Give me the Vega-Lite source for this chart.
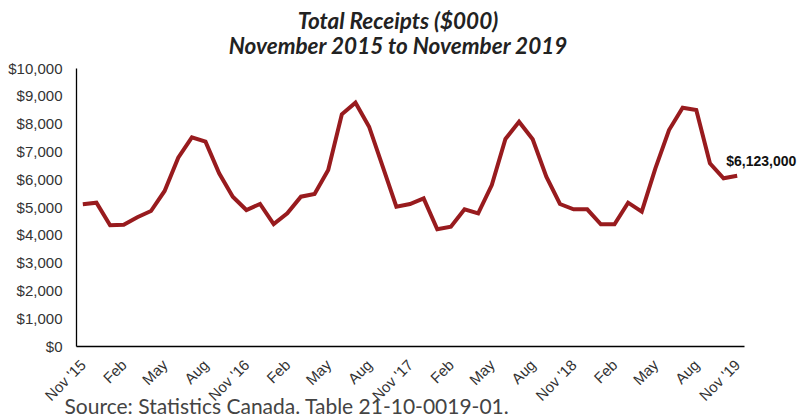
{
  "$schema": "https://vega.github.io/schema/vega-lite/v6.json",
  "autosize": {"type": "none"},
  "padding": {"left": 76, "top": 68, "right": 53, "bottom": 70},
  "width": 668,
  "height": 278,
  "background": "white",
  "config": {"view": {"stroke": null}},
  "title": {
    "text": ["Total Receipts ($000)", "November 2015 to November 2019"],
    "font": "Lato",
    "fontSize": 22.5,
    "fontStyle": "italic",
    "fontWeight": "bold",
    "color": "#222222",
    "lineHeight": 25,
    "anchor": "middle",
    "dx": -12,
    "offset": 3
  },
  "data": {
    "values": [
      {"month": "2015-11", "value": 5100},
      {"month": "2015-12", "value": 5155},
      {"month": "2016-01", "value": 4342},
      {"month": "2016-02", "value": 4364},
      {"month": "2016-03", "value": 4630},
      {"month": "2016-04", "value": 4856},
      {"month": "2016-05", "value": 5576},
      {"month": "2016-06", "value": 6773},
      {"month": "2016-07", "value": 7507},
      {"month": "2016-08", "value": 7350},
      {"month": "2016-09", "value": 6212},
      {"month": "2016-10", "value": 5371},
      {"month": "2016-11", "value": 4892},
      {"month": "2016-12", "value": 5108},
      {"month": "2017-01", "value": 4388},
      {"month": "2017-02", "value": 4773},
      {"month": "2017-03", "value": 5371},
      {"month": "2017-04", "value": 5468},
      {"month": "2017-05", "value": 6331},
      {"month": "2017-06", "value": 8335},
      {"month": "2017-07", "value": 8752},
      {"month": "2017-08", "value": 7888},
      {"month": "2017-09", "value": 6450},
      {"month": "2017-10", "value": 5011},
      {"month": "2017-11", "value": 5108},
      {"month": "2017-12", "value": 5312},
      {"month": "2018-01", "value": 4197},
      {"month": "2018-02", "value": 4291},
      {"month": "2018-03", "value": 4917},
      {"month": "2018-04", "value": 4773},
      {"month": "2018-05", "value": 5791},
      {"month": "2018-06", "value": 7446},
      {"month": "2018-07", "value": 8068},
      {"month": "2018-08", "value": 7435},
      {"month": "2018-09", "value": 6091},
      {"month": "2018-10", "value": 5108},
      {"month": "2018-11", "value": 4917},
      {"month": "2018-12", "value": 4917},
      {"month": "2019-01", "value": 4376},
      {"month": "2019-02", "value": 4376},
      {"month": "2019-03", "value": 5155},
      {"month": "2019-04", "value": 4832},
      {"month": "2019-05", "value": 6391},
      {"month": "2019-06", "value": 7770},
      {"month": "2019-07", "value": 8573},
      {"month": "2019-08", "value": 8489},
      {"month": "2019-09", "value": 6571},
      {"month": "2019-10", "value": 6032},
      {"month": "2019-11", "value": 6123}
    ]
  },
  "encoding": {
    "x": {
      "field": "month",
      "type": "ordinal",
      "sort": null,
      "scale": {"type": "point", "padding": 0.5},
      "axis": {
        "values": ["2015-11", "2016-02", "2016-05", "2016-08", "2016-11", "2017-02", "2017-05", "2017-08", "2017-11", "2018-02", "2018-05", "2018-08", "2018-11", "2019-02", "2019-05", "2019-08", "2019-11"],
        "labelExpr": "substring(datum.value,5,7)=='11' ? \"Nov '\" + substring(datum.value,2,4) : substring(datum.value,5,7)=='02' ? 'Feb' : substring(datum.value,5,7)=='05' ? 'May' : 'Aug'",
        "labelAngle": -45,
        "labelAlign": "right",
        "labelBaseline": "middle",
        "labelFont": "Liberation Sans",
        "labelFontSize": 15,
        "labelColor": "#333333",
        "labelPadding": 16,
        "ticks": false,
        "grid": false,
        "domainColor": "#000000",
        "domainWidth": 1.3,
        "title": "Source: Statistics Canada. Table 21-10-0019-01.",
        "titleFont": "Lato",
        "titleFontSize": 21,
        "titleFontWeight": "normal",
        "titleColor": "#444444",
        "titleAnchor": "start",
        "titleAlign": "left",
        "titleBaseline": "alphabetic",
        "titleX": -12,
        "titleY": 67
      }
    },
    "y": {
      "field": "value",
      "type": "quantitative",
      "scale": {"domain": [0, 10000], "nice": false},
      "axis": {
        "values": [0, 1000, 2000, 3000, 4000, 5000, 6000, 7000, 8000, 9000, 10000],
        "format": "$,.0f",
        "labelFont": "Liberation Sans",
        "labelFontSize": 15,
        "labelColor": "#333333",
        "labelPadding": 14,
        "ticks": false,
        "grid": false,
        "domainColor": "#000000",
        "domainWidth": 1.3,
        "title": null
      }
    }
  },
  "layer": [
    {
      "mark": {"type": "line", "color": "#981B1E", "strokeWidth": 4, "strokeJoin": "miter"}
    },
    {
      "transform": [{"filter": "datum.month == '2019-11'"}],
      "mark": {
        "type": "text",
        "text": "$6,123,000",
        "font": "Liberation Sans",
        "fontSize": 14,
        "fontWeight": "bold",
        "color": "#111111",
        "align": "left",
        "baseline": "alphabetic",
        "dx": -11,
        "dy": -10
      }
    }
  ]
}
